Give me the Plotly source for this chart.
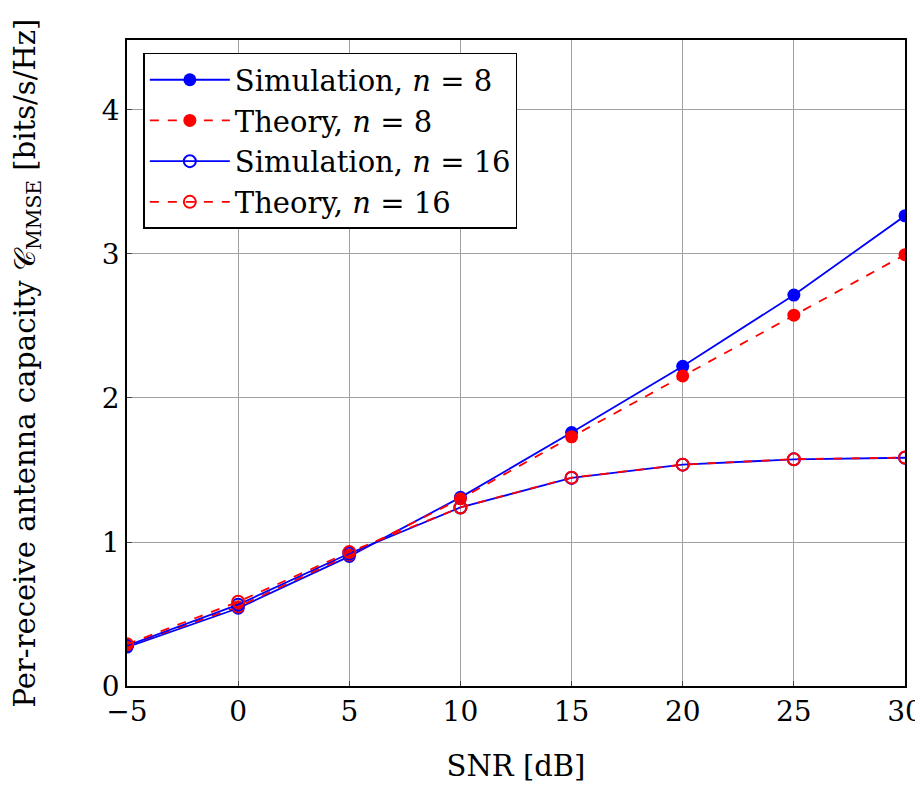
import plotly.graph_objects as go

snr = [-5, 0, 5, 10, 15, 20, 25, 30]
sim_n8 = [0.27, 0.54, 0.90, 1.31, 1.76, 2.22, 2.715, 3.265]
theory_n8 = [0.28, 0.55, 0.91, 1.30, 1.73, 2.153, 2.575, 2.995]
sim_n16 = [0.28, 0.565, 0.92, 1.24, 1.445, 1.537, 1.574, 1.585]
theory_n16 = [0.29, 0.585, 0.93, 1.24, 1.447, 1.537, 1.575, 1.586]

x_ticks = [-5, 0, 5, 10, 15, 20, 25, 30]
x_tick_text = ["\u22125", "0", "5", "10", "15", "20", "25", "30"]
y_ticks = [0, 1, 2, 3, 4]

FONT = "DejaVu Serif"
BLUE = "#0000ff"
RED = "#ff0000"

fig = go.Figure()
fig.add_trace(go.Scatter(x=snr, y=sim_n8, mode="lines+markers",
                         name="Simulation, <i>n</i> = 8",
                         line=dict(color=BLUE, width=1.8),
                         marker=dict(symbol="circle", size=13, color=BLUE)))
fig.add_trace(go.Scatter(x=snr, y=theory_n8, mode="lines+markers",
                         name="Theory, <i>n</i> = 8",
                         line=dict(color=RED, width=1.8, dash="dash"),
                         marker=dict(symbol="circle", size=13, color=RED)))
fig.add_trace(go.Scatter(x=snr, y=sim_n16, mode="lines+markers",
                         name="Simulation, <i>n</i> = 16",
                         line=dict(color=BLUE, width=1.8),
                         marker=dict(symbol="circle-open", size=12, color=BLUE,
                                     line=dict(width=2, color=BLUE))))
fig.add_trace(go.Scatter(x=snr, y=theory_n16, mode="lines+markers",
                         name="Theory, <i>n</i> = 16",
                         line=dict(color=RED, width=1.8, dash="dash"),
                         marker=dict(symbol="circle-open", size=12, color=RED,
                                     line=dict(width=2, color=RED))))

axis_common = dict(showline=True, linecolor="black", linewidth=1.5, mirror=True,
                   showgrid=True, gridcolor="#a0a0a0", gridwidth=1,
                   ticks="inside", ticklen=5, tickcolor="#444", zeroline=False,
                   automargin=False, ticklabeloverflow="allow",
                   tickfont=dict(family=FONT, size=28, color="black"))

fig.update_xaxes(range=[-5, 30], tickvals=x_ticks, ticktext=x_tick_text,
                 title=dict(text="SNR [dB]", font=dict(family=FONT, size=29, color="black"),
                            standoff=40),
                 **axis_common)
fig.update_yaxes(range=[0, 4.486], tickvals=y_ticks,
                 title=dict(text="Per-receive antenna capacity \U0001D49E<sub>MMSE</sub> [bits/s/Hz]",
                            font=dict(family=FONT, size=29, color="black"), standoff=64),
                 **axis_common)

fig.update_layout(
    width=907, height=775,
    margin=dict(l=119, r=10, t=32, b=97, pad=0),
    plot_bgcolor="white", paper_bgcolor="white",
    font=dict(family=FONT, color="black"),
    legend=dict(x=0.021, y=0.98, xanchor="left", yanchor="top",
                bgcolor="white", bordercolor="black", borderwidth=1.5,
                font=dict(family=FONT, size=29, color="black"),
                itemwidth=80),
    showlegend=True,
)

fig.write_html("out.html")
